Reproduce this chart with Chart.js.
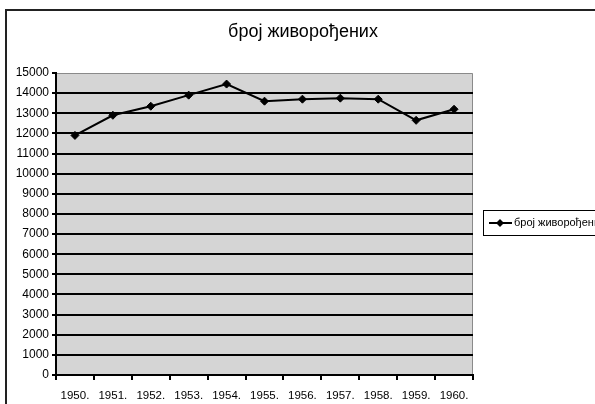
<!DOCTYPE html>
<html>
<head>
<meta charset="utf-8">
<script src="https://cdn.jsdelivr.net/npm/chart.js@4"></script>
<style>
  html, body { margin: 0; padding: 0; background: #fff; }
  #wrap { width: 595px; height: 404px; }
</style>
</head>
<body>
<div id="wrap"><canvas id="diagram" width="595" height="404"></canvas></div>
<script>
// Подаци са графикона
const years = ['1950.', '1951.', '1952.', '1953.', '1954.', '1955.', '1956.', '1957.', '1958.', '1959.', '1960.'];
const births = [11900, 12900, 13350, 13900, 14450, 13600, 13700, 13750, 13700, 12650, 13200];
const seriesName = 'број живорођених';
const titleText = 'број живорођених';
const yMin = 0;
const yMax = 15000;
const yStep = 1000;

const FONT = 'Arial, "Liberation Sans", sans-serif';

// Оквир, наслов, позадина и легенда као у Excel-у
const excelLook = {
    id: 'excelLook',
    beforeDraw(chart) {
        const { ctx, chartArea: a } = chart;
        ctx.save();
        ctx.fillStyle = '#fff';
        ctx.fillRect(0, 0, chart.width, chart.height);
        // спољни оквир
        ctx.strokeStyle = '#222';
        ctx.lineWidth = 2;
        ctx.beginPath();
        ctx.moveTo(6, chart.height);
        ctx.lineTo(6, 10);
        ctx.lineTo(chart.width, 10);
        ctx.stroke();
        // наслов
        ctx.fillStyle = '#000';
        ctx.font = '18px ' + FONT;
        ctx.textAlign = 'center';
        ctx.textBaseline = 'middle';
        ctx.fillText(titleText, 303, 32);
        // сива позадина
        ctx.fillStyle = '#d5d5d5';
        ctx.fillRect(a.left, a.top, a.right - a.left, a.bottom - a.top);
        ctx.strokeStyle = '#8a8a8a';
        ctx.lineWidth = 1;
        ctx.beginPath();
        ctx.moveTo(a.left, a.top + 0.5);
        ctx.lineTo(a.right - 0.5, a.top + 0.5);
        ctx.lineTo(a.right - 0.5, a.bottom);
        ctx.stroke();
        ctx.restore();
    },
    afterDraw(chart) {
        const { ctx } = chart;
        const ds = chart.data.datasets[0];
        ctx.save();
        ctx.strokeStyle = '#000';
        ctx.lineWidth = 1;
        ctx.strokeRect(483.5, 210.5, 130, 25);
        const y = 223;
        ctx.lineWidth = 2;
        ctx.beginPath();
        ctx.moveTo(489, y);
        ctx.lineTo(512, y);
        ctx.stroke();
        ctx.fillStyle = '#000';
        ctx.beginPath();
        ctx.moveTo(500, y - 4);
        ctx.lineTo(504, y);
        ctx.lineTo(500, y + 4);
        ctx.lineTo(496, y);
        ctx.closePath();
        ctx.fill();
        ctx.font = '11px ' + FONT;
        ctx.textBaseline = 'middle';
        ctx.fillText(ds.label, 514, y);
        ctx.restore();
    }
};

function createChart() {
    const ctx = document.getElementById('diagram').getContext('2d');

    new Chart(ctx, {
        type: 'line',
        data: {
            labels: years,
            datasets: [
                {
                    label: seriesName,
                    data: births,
                    borderColor: '#000',
                    backgroundColor: '#000',
                    borderWidth: 2,
                    pointStyle: 'rectRot',
                    pointRadius: 4,
                    pointBorderWidth: 1,
                    tension: 0
                }
            ]
        },
        options: {
            responsive: false,
            animation: false,
            devicePixelRatio: 1,
            layout: { padding: { left: 0, right: 122, top: 73, bottom: 0 } },
            plugins: {
                legend: { display: false },
                tooltip: { enabled: false },
                title: { display: false }
            },
            scales: {
                x: {
                    offset: true,
                    grid: {
                        offset: true,
                        drawOnChartArea: false,
                        drawTicks: true,
                        tickLength: 5,
                        color: '#000',
                        lineWidth: 2
                    },
                    border: { color: '#000', width: 2 },
                    ticks: {
                        color: '#000',
                        font: { family: FONT, size: 11.5 },
                        padding: 9,
                        maxRotation: 0,
                        autoSkip: false
                    },
                    afterFit(scale) { scale.height = 29; }
                },
                y: {
                    min: yMin,
                    max: yMax,
                    grid: {
                        color: c => c.tick && c.tick.value === yMax ? 'rgba(0,0,0,0)' : '#000',
                        tickColor: '#000',
                        lineWidth: 2,
                        tickLength: 4
                    },
                    border: { color: '#000', width: 2 },
                    ticks: {
                        stepSize: yStep,
                        color: '#000',
                        font: { family: FONT, size: 12 },
                        padding: 3,
                        callback: v => String(v)
                    },
                    afterFit(scale) { scale.width = 56; }
                }
            }
        },
        plugins: [excelLook]
    });
}

createChart();
</script>
</body>
</html>
